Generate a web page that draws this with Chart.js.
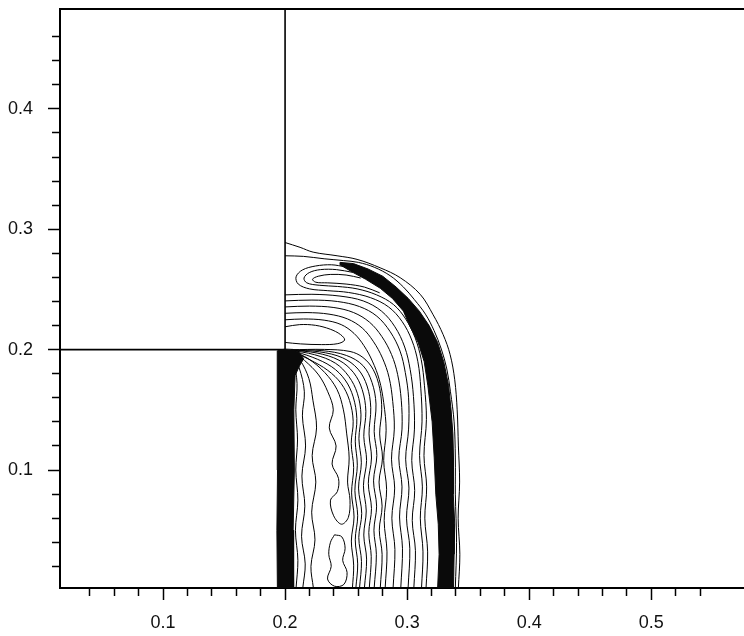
<!DOCTYPE html>
<html>
<head>
<meta charset="utf-8">
<script src="https://cdn.jsdelivr.net/npm/chart.js@4.4.1/dist/chart.umd.min.js"></script>
<style>
  html, body { margin: 0; padding: 0; background: #fff; }
  #wrap { width: 744px; height: 636px; }
</style>
</head>
<body>
<div id="wrap"><canvas id="plot" width="744" height="636"></canvas></div>
<script>
// Axis ranges and tick labels
const xRange = [0.0156, 0.576];
const yRange = [0.002, 0.483];
const xTickLabels = ['0.1', '0.2', '0.3', '0.4', '0.5'];
const yTickLabels = ['0.1', '0.2', '0.3', '0.4'];

// Step geometry: floor ledge at y = 0.2 and wall at x = 0.2
const stepOutline = [[0.0156, 0.2], [0.2, 0.2], [0.2, 0.483]];

// Dense dark band hugging the wall below the corner
const wallBand = [[0.1937,0.002],[0.1933,0.05],[0.1938,0.1],[0.1934,0.15],[0.1938,0.199],[0.2,0.2005],[0.2062,0.2002],[0.2118,0.1975],[0.2152,0.1925],[0.2118,0.1865],[0.2082,0.1785],[0.2072,0.15],[0.2076,0.1],[0.2066,0.05],[0.207,0.002],[0.1937,0.002]];

// Diffracted shock: band of merged contour levels
const shockBand = [[0.245,0.2725],[0.256,0.2715],[0.268,0.267],[0.28,0.261],[0.291,0.252],[0.301,0.2425],[0.31,0.232],[0.318,0.22],[0.325,0.206],[0.33,0.19],[0.334,0.17],[0.336,0.15],[0.3375,0.13],[0.338,0.11],[0.3378,0.08],[0.339,0.055],[0.3385,0.03],[0.338,0.002],[0.325,0.002],[0.3262,0.03],[0.3255,0.055],[0.3235,0.08],[0.3222,0.11],[0.3205,0.14],[0.317,0.17],[0.314,0.19],[0.309,0.206],[0.302,0.22],[0.297,0.232],[0.288,0.2425],[0.278,0.251],[0.266,0.2585],[0.255,0.2645],[0.245,0.2705],[0.245,0.2725]];

// Outer contours running just ahead of the shock
const frontContours = [
  [[0.2,0.289],[0.2123,0.285],[0.223,0.281],[0.2426,0.278],[0.259,0.275],[0.2779,0.268],[0.2943,0.2598],[0.3107,0.246],[0.3213,0.229],[0.3295,0.2125],[0.3352,0.196],[0.339,0.175],[0.341,0.15],[0.342,0.12],[0.343,0.09],[0.3418,0.06],[0.3432,0.03],[0.342,0.002]],
  [[0.2,0.278],[0.215,0.2775],[0.232,0.2755],[0.248,0.274],[0.26,0.2725],[0.273,0.2685],[0.286,0.2615],[0.297,0.252],[0.306,0.2415],[0.315,0.2295],[0.322,0.216],[0.328,0.2005],[0.3325,0.184],[0.3355,0.165],[0.3385,0.14],[0.3395,0.11],[0.3395,0.08],[0.3405,0.04],[0.3395,0.002]]
];

// Hairpin contours folding back near the wall above the corner
const hairpinContours = [
  [[0.2495,0.2688],[0.238,0.2705],[0.225,0.2695],[0.2142,0.2662],[0.209,0.2605],[0.2108,0.2545],[0.22,0.2505],[0.235,0.249],[0.252,0.2475],[0.27,0.2432],[0.2848,0.2355],[0.2958,0.2235],[0.3038,0.208],[0.3088,0.19],[0.3112,0.168],[0.3122,0.14],[0.3102,0.112],[0.3125,0.086],[0.3108,0.06],[0.313,0.032],[0.3118,0.002]],
  [[0.2555,0.2642],[0.242,0.2665],[0.229,0.2665],[0.2198,0.264],[0.2155,0.2595],[0.2178,0.2555],[0.228,0.2535],[0.243,0.2525],[0.259,0.2505],[0.275,0.2455],[0.2888,0.2375],[0.2988,0.2255],[0.3065,0.21],[0.3115,0.192],[0.3142,0.17],[0.3158,0.142],[0.3138,0.112],[0.316,0.086],[0.3145,0.06],[0.3168,0.032],[0.3155,0.002]],
  [[0.262,0.2595],[0.25,0.262],[0.237,0.2625],[0.2272,0.261],[0.2225,0.2585],[0.2252,0.256],[0.235,0.2555],[0.25,0.2545],[0.265,0.252],[0.2775,0.2472]]
];

// Contours leaving the upper wall and turning down behind the shock
const wallContours = [
  [[0.2,0.2248],[0.215,0.2255],[0.232,0.2245],[0.246,0.2208],[0.2565,0.2135],[0.2645,0.2035],[0.2715,0.1905],[0.2772,0.175],[0.2808,0.156],[0.2828,0.133],[0.2808,0.108],[0.2832,0.084],[0.2812,0.058],[0.2835,0.032],[0.282,0.002]],
  [[0.2,0.2302],[0.218,0.2308],[0.236,0.2295],[0.2512,0.2255],[0.2632,0.218],[0.2722,0.207],[0.2798,0.193],[0.2852,0.177],[0.2882,0.157],[0.2895,0.134],[0.2872,0.109],[0.2898,0.085],[0.2875,0.06],[0.29,0.034],[0.2885,0.002]],
  [[0.2,0.2355],[0.22,0.2362],[0.24,0.235],[0.2562,0.2308],[0.2692,0.2228],[0.2792,0.211],[0.2872,0.196],[0.2922,0.1795],[0.2952,0.158],[0.2958,0.134],[0.2932,0.11],[0.2958,0.086],[0.2938,0.061],[0.2962,0.035],[0.2948,0.002]],
  [[0.2,0.2405],[0.222,0.2412],[0.243,0.24],[0.261,0.2358],[0.2752,0.2278],[0.2862,0.2148],[0.2942,0.1988],[0.2985,0.181],[0.3012,0.16],[0.3012,0.134],[0.2988,0.109],[0.3015,0.085],[0.2995,0.06],[0.3022,0.035],[0.3008,0.002]],
  [[0.2,0.2455],[0.222,0.246],[0.245,0.2445],[0.264,0.2405],[0.279,0.232],[0.29,0.219],[0.298,0.2022],[0.3025,0.1835],[0.3052,0.161],[0.306,0.134],[0.3038,0.108],[0.3062,0.083],[0.3042,0.058],[0.3068,0.033],[0.3055,0.002]]
];

// Expansion fan spreading from the corner
const fanContours = [
  [[0.2048,0.1992],[0.2205,0.1915],[0.235,0.1828],[0.246,0.1718],[0.2528,0.1578],[0.2558,0.1405],[0.2542,0.122],[0.2562,0.102],[0.2545,0.081],[0.2565,0.061],[0.2543,0.041],[0.2562,0.021],[0.2552,0.002]],
  [[0.2048,0.1994],[0.2222,0.1938],[0.2382,0.1858],[0.2492,0.1748],[0.2558,0.1608],[0.2588,0.1428],[0.2575,0.124],[0.2592,0.104],[0.2572,0.083],[0.2595,0.062],[0.2575,0.042],[0.2595,0.022],[0.258,0.002]],
  [[0.2048,0.1995],[0.2242,0.1958],[0.2412,0.1888],[0.2522,0.1778],[0.2592,0.1638],[0.2622,0.1458],[0.2605,0.126],[0.2625,0.106],[0.2602,0.085],[0.2628,0.064],[0.2604,0.044],[0.2626,0.024],[0.261,0.002]],
  [[0.2048,0.1996],[0.2262,0.1972],[0.2442,0.1912],[0.2562,0.1808],[0.2632,0.1668],[0.2662,0.1488],[0.2645,0.128],[0.2668,0.108],[0.2642,0.087],[0.2665,0.066],[0.2645,0.046],[0.2668,0.026],[0.265,0.002]],
  [[0.2048,0.1997],[0.2282,0.1982],[0.2472,0.1932],[0.2598,0.1838],[0.2672,0.1698],[0.2702,0.1518],[0.2688,0.13],[0.2708,0.11],[0.2682,0.089],[0.2708,0.068],[0.2686,0.048],[0.2706,0.028],[0.269,0.002]],
  [[0.2048,0.1998],[0.2302,0.1992],[0.2502,0.1952],[0.2638,0.1868],[0.2712,0.1728],[0.2745,0.1548],[0.273,0.132],[0.2752,0.112],[0.2725,0.091],[0.275,0.07],[0.2728,0.05],[0.2748,0.03],[0.273,0.002]],
  [[0.2048,0.1999],[0.2322,0.2002],[0.2532,0.1985],[0.2638,0.1935],[0.2722,0.1835],[0.2775,0.168],[0.2792,0.15],[0.2775,0.13],[0.2798,0.11],[0.277,0.09],[0.2795,0.07],[0.2772,0.05],[0.2795,0.03],[0.278,0.002]]
];

// Near-wall contours below the corner
const lowerContours = [
  [[0.209,0.002],[0.2105,0.025],[0.2085,0.05],[0.2105,0.075],[0.2088,0.1],[0.2102,0.125],[0.2088,0.15],[0.2098,0.172],[0.2072,0.19],[0.2045,0.1985]],
  [[0.2145,0.002],[0.2165,0.022],[0.2135,0.045],[0.2162,0.07],[0.2138,0.095],[0.2168,0.12],[0.2142,0.145],[0.2158,0.165],[0.2115,0.185],[0.2048,0.1988]],
  [[0.2232,0.002],[0.2212,0.02],[0.2245,0.042],[0.2218,0.065],[0.2252,0.09],[0.2222,0.112],[0.2258,0.135],[0.2228,0.158],[0.2195,0.176],[0.2125,0.191],[0.205,0.199]]
];

// Closed level curves: corner lobe, floor island, wall bubble
const closedContours = [
  [[0.2052,0.1992],[0.216,0.191],[0.2275,0.179],[0.235,0.165],[0.2395,0.15],[0.2362,0.135],[0.2418,0.12],[0.2385,0.105],[0.2438,0.093],[0.2428,0.082],[0.2372,0.075],[0.2398,0.062],[0.2462,0.055],[0.2518,0.0605],[0.2532,0.075],[0.2512,0.09],[0.2525,0.11],[0.2505,0.13],[0.2478,0.15],[0.2425,0.167],[0.2325,0.181],[0.219,0.1925],[0.2055,0.1993]],
  [[0.2405,0.0462],[0.2465,0.0445],[0.2492,0.035],[0.2472,0.025],[0.2508,0.015],[0.2482,0.005],[0.2405,0.0035],[0.2348,0.0095],[0.2378,0.02],[0.2358,0.03],[0.2372,0.04],[0.2405,0.0462]],
  [[0.2,0.219],[0.212,0.2208],[0.225,0.2202],[0.237,0.217],[0.2455,0.2125],[0.2488,0.208],[0.2432,0.205],[0.23,0.2042],[0.2125,0.2048],[0.2,0.206]]
];

const INK = '#000';
const FONT = { family: '"Liberation Sans", Arial, Helvetica, sans-serif', size: 18 };

const datasets = [];
function addContours(list) {
  list.forEach(pts => datasets.push({
    data: pts, showLine: true, fill: false, borderColor: INK, borderWidth: 1,
    pointRadius: 0, tension: 0.35
  }));
}
function addBand(pts) {
  datasets.push({
    data: pts, showLine: true, fill: 'shape', borderColor: '#0a0a0a',
    backgroundColor: '#0a0a0a', borderWidth: 1, pointRadius: 0, tension: 0
  });
}

addBand(wallBand);
addBand(shockBand);
addContours(frontContours);
addContours(hairpinContours);
addContours(wallContours);
addContours(fanContours);
addContours(lowerContours);
addContours(closedContours);
datasets.push({
  data: stepOutline, showLine: true, fill: false, borderColor: INK,
  borderWidth: 1.6, pointRadius: 0, tension: 0
});

const onGrid = v => Math.abs(v * 50 - Math.round(v * 50)) < 1e-6;
const isMajor = v => Math.abs(v * 10 - Math.round(v * 10)) < 1e-6;
const labelFor = (list) => v => {
  if (!isMajor(v)) return '';
  const s = v.toFixed(1);
  return list.includes(s) ? s : '';
};
const tickColor = c => (c.tick && !onGrid(c.tick.value)) ? 'rgba(0,0,0,0)' : INK;
// Keep the plot frame fixed: no label overhang padding on any axis
const zeroPad = s => { s.paddingTop = 0; s.paddingBottom = 0; s.paddingLeft = 0; s.paddingRight = 0; };

new Chart(document.getElementById('plot'), {
  type: 'scatter',
  data: { datasets },
  options: {
    responsive: false,
    animation: false,
    events: [],
    layout: { padding: { top: 9, right: 0, bottom: 0, left: 0 } },
    plugins: { legend: { display: false }, tooltip: { enabled: false } },
    scales: {
      x: {
        type: 'linear', position: 'bottom', min: xRange[0], max: xRange[1],
        afterFit: s => { s.height = 48; zeroPad(s); },
        border: { display: true, color: INK, width: 2 },
        grid: {
          drawOnChartArea: false, drawTicks: true, tickLength: 12, tickWidth: 1.5,
          tickColor,
          tickBorderDash: c => (c.tick && isMajor(c.tick.value)) ? [] : [7, 40]
        },
        ticks: {
          stepSize: 0.02, autoSkip: false, maxRotation: 0, padding: 12,
          color: '#111', font: FONT, callback: labelFor(xTickLabels)
        }
      },
      y: {
        type: 'linear', position: 'left', min: yRange[0], max: yRange[1],
        afterFit: s => { s.width = 60; zeroPad(s); },
        border: { display: true, color: INK, width: 2 },
        grid: {
          drawOnChartArea: false, drawTicks: true, tickLength: 12, tickWidth: 1.5,
          tickColor,
          tickBorderDash: c => (c.tick && isMajor(c.tick.value)) ? [] : [0, 4, 8, 40]
        },
        ticks: {
          stepSize: 0.02, autoSkip: false, padding: 15,
          color: '#111', font: FONT, callback: labelFor(yTickLabels)
        }
      },
      xTop: {
        type: 'linear', axis: 'x', position: 'top', min: xRange[0], max: xRange[1],
        afterFit: s => { s.height = 0; zeroPad(s); },
        border: { display: true, color: INK, width: 2 },
        grid: { display: false, drawTicks: false },
        ticks: { display: false }
      }
    }
  }
});
</script>
</body>
</html>
